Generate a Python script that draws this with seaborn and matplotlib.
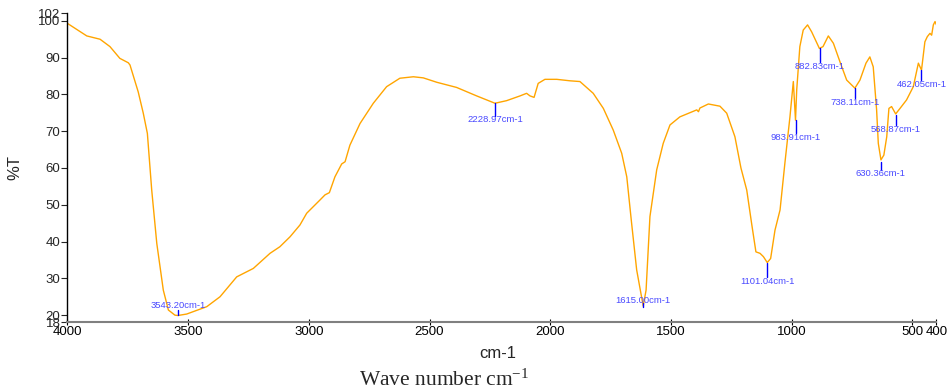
"""FTIR transmittance spectrum with labelled absorption peaks."""

import matplotlib

matplotlib.use("Agg")
import matplotlib.pyplot as plt
import pandas as pd
import seaborn as sns

# Spectrum (wavenumber in cm-1, %T)
wavenumber = [
    4000, 3920, 3865, 3824, 3783, 3748, 3741, 3707, 3686, 3669, 3651, 3630,
    3603, 3582, 3555, 3543, 3506, 3423, 3368, 3299, 3230, 3161, 3120, 3078,
    3037, 3009, 2954, 2933, 2915, 2892, 2864, 2850, 2830, 2788, 2733, 2678,
    2623, 2567, 2526, 2470, 2388, 2305, 2229, 2181, 2125, 2098, 2084, 2067,
    2050, 2022, 1973, 1918, 1877, 1822, 1780, 1739, 1704, 1683, 1663, 1642,
    1615, 1603, 1587, 1559, 1532, 1504, 1463, 1393, 1386, 1380, 1345, 1297,
    1269, 1235, 1210, 1186, 1166, 1148, 1131, 1117, 1101, 1087, 1069, 1048,
    1028, 1007, 993, 984, 979, 966, 952, 934, 917, 885, 870, 848, 827, 800,
    772, 738, 717, 692, 676, 662, 648, 641, 630, 618, 606, 597, 586, 569,
    551, 524, 496, 475, 462, 448, 438, 427, 420, 413, 406, 400,
]
transmittance = [
    99.3, 95.9, 95.0, 93.0, 89.8, 88.6, 88.0, 80.7, 74.9, 69.4, 54.0, 39.5,
    26.8, 21.4, 20.0, 19.9, 20.3, 22.3, 25.0, 30.4, 32.7, 36.8, 38.6, 41.3,
    44.5, 47.7, 51.3, 52.7, 53.3, 57.6, 61.1, 61.7, 66.2, 72.1, 77.6, 82.1,
    84.4, 84.8, 84.5, 83.3, 81.9, 79.6, 77.6, 78.3, 79.6, 80.3, 79.6, 79.2,
    83.0, 84.1, 84.1, 83.7, 83.5, 80.3, 76.2, 70.3, 64.0, 57.6, 45.0, 32.3,
    22.5, 26.8, 46.8, 59.5, 66.7, 71.7, 73.9, 75.8, 75.3, 76.3, 77.4, 76.8,
    74.9, 68.5, 60.0, 54.0, 45.0, 37.2, 36.8, 35.9, 34.3, 35.4, 43.1, 48.6,
    61.3, 73.9, 83.5, 73.0, 81.2, 93.0, 97.5, 98.9, 97.0, 92.5, 93.0, 95.9,
    93.9, 88.9, 83.9, 81.7, 83.9, 88.5, 90.2, 87.5, 75.8, 66.7, 62.2, 63.5,
    68.5, 76.2, 76.7, 74.7, 76.2, 78.5, 82.1, 88.5, 86.6, 94.3, 95.7, 96.6,
    96.1, 98.9, 99.8, 98.9,
]

# Peak annotations: position, marker line ends and label height
peak_wavenumber = [3543.20, 2228.97, 1615.00, 1101.04, 983.91, 882.83,
                   738.11, 630.36, 568.87, 462.05]
peak_line_top = [21.3, 77.6, 23.3, 34.3, 73.0, 92.6, 81.7, 61.6, 74.4, 86.6]
peak_line_bottom = [20.0, 74.1, 22.3, 30.4, 69.5, 88.8, 79.0, 59.5, 71.7, 83.9]
peak_label_y = [22.5, 73.3, 24.1, 29.1, 68.4, 87.5, 77.9, 58.6, 70.5, 82.6]

x_ticks = [4000, 3500, 3000, 2500, 2000, 1500, 1000, 500, 400]
y_ticks = [18, 20, 30, 40, 50, 60, 70, 80, 90, 100, 102]

spectrum = pd.DataFrame({"wavenumber": wavenumber, "transmittance": transmittance})

sns.set_style("ticks")
plt.rcParams["font.family"] = ["Liberation Sans", "DejaVu Sans"]
plt.rcParams["mathtext.default"] = "regular"

fig = plt.figure(figsize=(9.49, 3.91), dpi=100)
ax = fig.add_axes([0.0711, 0.1752, 0.9157, 0.7903])

sns.lineplot(data=spectrum, x="wavenumber", y="transmittance", sort=False,
             color="#ffa500", linewidth=1.0, ax=ax)

for wn, top, bottom, label_y in zip(peak_wavenumber, peak_line_top,
                                    peak_line_bottom, peak_label_y):
    ax.plot([wn, wn], [bottom, top], color="#0000ff", linewidth=1.0)
    ax.text(wn, label_y, f"{wn:.2f}cm-1", color="#4a4aff", fontsize=6.8,
            ha="center", va="center")

ax.set_xlim(4000, 400)
ax.set_ylim(18, 102)
ax.set_xticks(x_ticks)
ax.set_yticks(y_ticks)
ax.tick_params(axis="x", direction="inout", length=5, width=0.8,
               labelsize=9.5, pad=0, colors="black")
ax.tick_params(axis="y", direction="out", length=4, width=0.8,
               labelsize=9.5, pad=1)

for side in ["top", "right"]:
    ax.spines[side].set_visible(False)
ax.spines["bottom"].set_color("#808080")
ax.spines["bottom"].set_linewidth(1.5)
ax.spines["left"].set_color("black")
ax.spines["left"].set_linewidth(1.0)

ax.set_ylabel("%T", fontsize=12)
ax.yaxis.set_label_coords(-0.052, 0.5)
ax.set_xlabel("cm-1", fontsize=12)
ax.xaxis.set_label_coords(0.495, -0.075)

fig.text(0.468, 0.028, "Wave number cm$^{-1}$", fontsize=15.5,
         family="Liberation Serif", ha="center", va="center")

fig.savefig("out.png", dpi=100)
plt.close(fig)
